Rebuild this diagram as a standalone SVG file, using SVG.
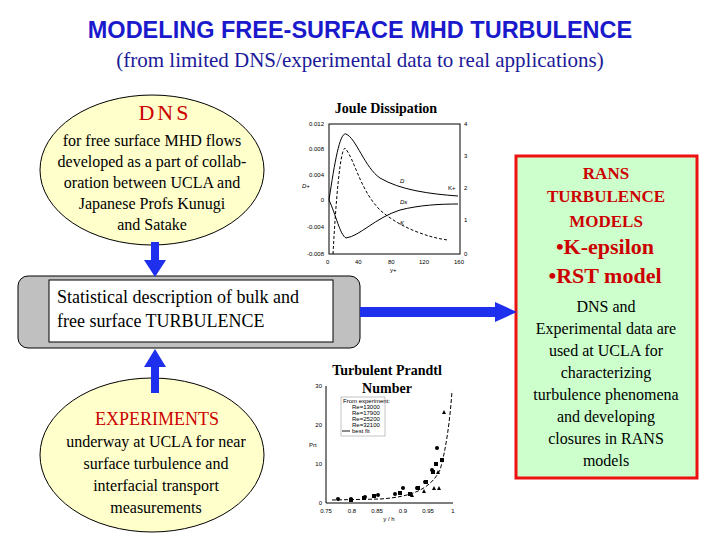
<svg xmlns="http://www.w3.org/2000/svg" width="720" height="540" viewBox="0 0 720 540">
<style>
.sm{font-family:'Liberation Sans',sans-serif;font-size:6px}
.ax{stroke:#000;stroke-width:1;fill:none}
.arr{fill:#1f2fee;stroke:none}
</style>
<rect width="720" height="540" fill="#fff"/>
<text x="360" y="38" text-anchor="middle" font-family="Liberation Sans,sans-serif" font-weight="bold" font-size="23.5" fill="#1a1acc">MODELING FREE-SURFACE MHD TURBULENCE</text>
<text x="360" y="67" text-anchor="middle" font-family="Liberation Serif,serif" font-size="21" fill="#1a1a99">(from limited DNS/experimental data to real applications)</text>

<g id="dns">
<ellipse cx="152" cy="170" rx="112" ry="75" fill="#ffffcc" stroke="#000"/>
<text x="165" y="120" text-anchor="middle" font-family="Liberation Serif,serif" font-size="22" fill="#cc0000" letter-spacing="3">DNS</text>
<g font-family="Liberation Serif,serif" font-size="16" text-anchor="middle">
<text x="152" y="146">for free surface MHD flows</text>
<text x="152" y="167">developed as a part of collab-</text>
<text x="152" y="188">oration between UCLA and</text>
<text x="152" y="209">Japanese Profs Kunugi</text>
<text x="152" y="230">and Satake</text>
</g>
</g>

<g id="joule">
<text x="386" y="113" text-anchor="middle" font-family="Liberation Serif,serif" font-weight="bold" font-size="14">Joule Dissipation</text>
<rect x="329" y="124" width="131" height="130" class="ax"/>
<g class="sm" text-anchor="end">
<text x="324" y="126">0.012</text><text x="324" y="151">0.008</text><text x="324" y="177">0.004</text><text x="324" y="202">0</text><text x="324" y="229">-0.004</text><text x="324" y="256">-0.008</text>
</g>
<g class="sm">
<text x="464" y="126">4</text><text x="464" y="158">3</text><text x="464" y="190">2</text><text x="464" y="222">1</text><text x="464" y="256">0</text>
<text x="326" y="264">0</text><text x="355" y="264">40</text><text x="388" y="264">80</text><text x="419" y="264">120</text><text x="454" y="264">160</text>
<text x="390" y="272">y+</text><text x="302" y="188" font-style="italic">D+</text>
<text x="400" y="183" font-style="italic">D</text><text x="400" y="204" font-style="italic">Ds</text><text x="400" y="225" font-style="italic">K</text><text x="448" y="190">K+</text>
</g>
<path d="M329,200 C335,160 340,132 346,134 C356,138 365,168 380,178 C400,190 430,194 458,196" class="ax"/>
<path d="M329,200 C336,215 340,235 346,238 C360,236 375,218 400,210 C420,205 440,204 458,204" class="ax"/>
<path d="M333,254 C336,200 340,150 345,148 C355,160 360,190 380,210 C400,228 430,238 448,240" class="ax" stroke-dasharray="3,2"/>
</g>

<g id="stat">
<rect x="18" y="276" width="342" height="72" rx="10" fill="#c0c0c0" stroke="#000"/>
<rect x="49" y="280" width="284" height="62" fill="#fff" stroke="#000"/>
<text x="57" y="303" font-family="Liberation Serif,serif" font-size="18">Statistical description of bulk and</text>
<text x="57" y="327" font-family="Liberation Serif,serif" font-size="18">free surface TURBULENCE</text>
</g>

<g id="exp">
<ellipse cx="152" cy="455" rx="112" ry="77" fill="#ffffcc" stroke="#000"/>
<text x="157" y="425" text-anchor="middle" font-family="Liberation Serif,serif" font-size="18" fill="#cc0000">EXPERIMENTS</text>
<g font-family="Liberation Serif,serif" font-size="16" text-anchor="middle">
<text x="156" y="447">underway at UCLA for near</text>
<text x="156" y="469">surface turbulence and</text>
<text x="156" y="491">interfacial transport</text>
<text x="156" y="513">measurements</text>
</g>
</g>

<g id="prandtl">
<path d="M326,386 V503 H453" class="ax"/>
<g class="sm" text-anchor="end"><text x="322" y="388">30</text><text x="322" y="427">20</text><text x="322" y="466">10</text><text x="322" y="505">0</text></g>
<g class="sm" text-anchor="middle"><text x="326" y="513">0.75</text><text x="352" y="513">0.8</text><text x="377" y="513">0.85</text><text x="403" y="513">0.9</text><text x="428" y="513">0.95</text><text x="453" y="513">1</text><text x="389" y="521">y / h</text></g>
<text x="309" y="447" class="sm">Prt</text>
<rect x="341" y="397" width="44" height="39" fill="#fff" stroke="#888" stroke-width="0.5"/>
<g class="sm" font-size="5"><text x="343" y="403">From experiment:</text><text x="352" y="409">Re=13000</text><text x="352" y="415">Re=17900</text><text x="352" y="421">Re=25200</text><text x="352" y="427">Re=32100</text><text x="352" y="433">best fit</text></g>
<line x1="342" y1="431" x2="350" y2="431" stroke="#666" stroke-width="1.5"/>
<path d="M332,500 L380,499 C410,497 430,490 440,470 C446,450 450,420 452,391" class="ax" stroke-dasharray="4,2"/>
<g fill="#000">
<circle cx="338" cy="499" r="2"/><circle cx="351" cy="499" r="2"/><circle cx="365" cy="497" r="2"/><circle cx="378" cy="495" r="2"/><circle cx="395" cy="494" r="2"/><circle cx="403" cy="488" r="2"/><circle cx="417" cy="488" r="2"/><circle cx="425" cy="482" r="2"/><circle cx="432" cy="470" r="2"/><circle cx="437" cy="448" r="2"/>
<rect x="349" y="498" width="4" height="4"/><rect x="362" y="496" width="4" height="4"/><rect x="372" y="494" width="4" height="4"/><rect x="398" y="491" width="4" height="4"/><rect x="408" y="492" width="4" height="4"/><rect x="416" y="486" width="4" height="4"/><rect x="424" y="480" width="4" height="4"/><rect x="434" y="462" width="4" height="4"/><rect x="431" y="470" width="4" height="4"/><rect x="440" y="458" width="4" height="4"/>
<path d="M410,497 l2,-4 l2,4z M422,493 l2,-4 l2,4z M432,490 l2,-4 l2,4z M436,474 l2,-4 l2,4z M442,414 l2,-4 l2,4z M437,490 l2,-4 l2,4z"/>
</g>
<text x="387" y="375" text-anchor="middle" font-family="Liberation Serif,serif" font-weight="bold" font-size="14">Turbulent Prandtl</text>
<text x="387" y="393" text-anchor="middle" font-family="Liberation Serif,serif" font-weight="bold" font-size="14">Number</text>
</g>

<g id="rans">
<rect x="516" y="156" width="181" height="322" fill="#ccffcc" stroke="#ee1111" stroke-width="3"/>
<g font-family="Liberation Serif,serif" font-size="17" font-weight="bold" text-anchor="middle" fill="#cc0000">
<text x="606" y="179">RANS</text><text x="606" y="202">TURBULENCE</text><text x="606" y="227">MODELS</text>
<text x="605" y="254" font-size="22">•K-epsilon</text><text x="605" y="283" font-size="22">•RST model</text>
</g>
<g font-family="Liberation Serif,serif" font-size="16" text-anchor="middle">
<text x="606" y="312">DNS and</text><text x="606" y="334">Experimental data are</text><text x="606" y="356">used at UCLA for</text><text x="606" y="378">characterizing</text><text x="606" y="400">turbulence phenomena</text><text x="606" y="422">and developing</text><text x="606" y="444">closures in RANS</text><text x="606" y="466">models</text>
</g>
</g>

<g id="connectors">
<path class="arr" d="M151,242 H159 V260 H166 L155,277 L144,260 H151 Z"/>
<path class="arr" d="M151,393 H159 V367 H166 L155,349 L144,367 H151 Z"/>
<path class="arr" d="M360,307 H495 V302 L517,312 L495,322 V317 H360 Z"/>
</g>
</svg>
